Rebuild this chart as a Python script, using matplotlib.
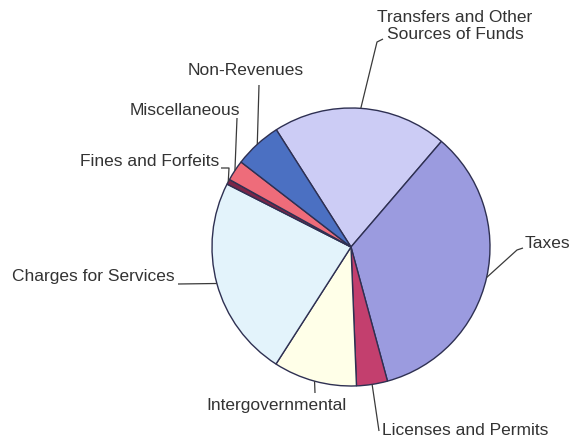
import matplotlib.pyplot as plt
import numpy as np

# revenue sources, clockwise from the top (percent of total)
labels = ["Transfers and Other\nSources of Funds", "Taxes", "Licenses and Permits",
          "Intergovernmental", "Charges for Services", "Fines and Forfeits",
          "Miscellaneous", "Non-Revenues"]
shares = [20.3, 34.5, 3.6, 9.7, 23.4, 0.6, 2.4, 5.5]
colors = ["#CCCCF5", "#9B9BDF", "#C33F6E", "#FFFFE8", "#E3F3FB", "#7B2548",
          "#EE6C7A", "#4B70C2"]

W, H = 573, 440
cx, cy, r = 351, 247, 139  # pie centre / radius in pixels (y down)

# label layout in pixels (y down): text anchor, alignment, leader elbow points
layout = {
    "Transfers and Other\nSources of Funds": ((455, 26), "center", [(377, 42), (383, 39)]),
    "Taxes": ((525, 243), "left", [(517, 250), (523, 248)]),
    "Licenses and Permits": ((382, 430), "left", [(379, 431)]),
    "Intergovernmental": ((277, 405), "center", [(315, 393)]),
    "Charges for Services": ((175, 276), "right", [(178, 284)]),
    "Fines and Forfeits": ((219, 161), "right", [(229, 168), (221, 168)]),
    "Miscellaneous": ((185, 110), "center", [(237, 118)]),
    "Non-Revenues": ((246, 70), "center", [(259, 85)]),
}

plt.rcParams['font.family'] = ['Liberation Sans', 'DejaVu Sans']

fig = plt.figure(figsize=(W / 100, H / 100), dpi=100)
ax = fig.add_axes([0, 0, 1, 1])

wedges, _ = ax.pie(shares, colors=colors, startangle=122.5, counterclock=False,
                   center=(cx, H - cy), radius=r,
                   wedgeprops=dict(edgecolor="#2E3052", linewidth=1.0))

for w, lab in zip(wedges, labels):
    mid = np.deg2rad((w.theta1 + w.theta2) / 2)
    ex, ey = cx + r * np.cos(mid), cy - r * np.sin(mid)
    (tx, ty), ha, elbows = layout[lab]
    pts = [(ex, ey)] + elbows
    ax.plot([p[0] for p in pts], [H - p[1] for p in pts], color="#3A3A3A",
            lw=0.9, solid_capstyle="butt", zorder=1)
    ax.text(tx, H - ty, lab, ha=ha, va="center", fontsize=12.5,
            color="#333333", linespacing=1.15)

ax.set_xlim(0, W)
ax.set_ylim(0, H)
ax.set_aspect("equal")
ax.axis("off")

fig.savefig("out.png", dpi=100)
